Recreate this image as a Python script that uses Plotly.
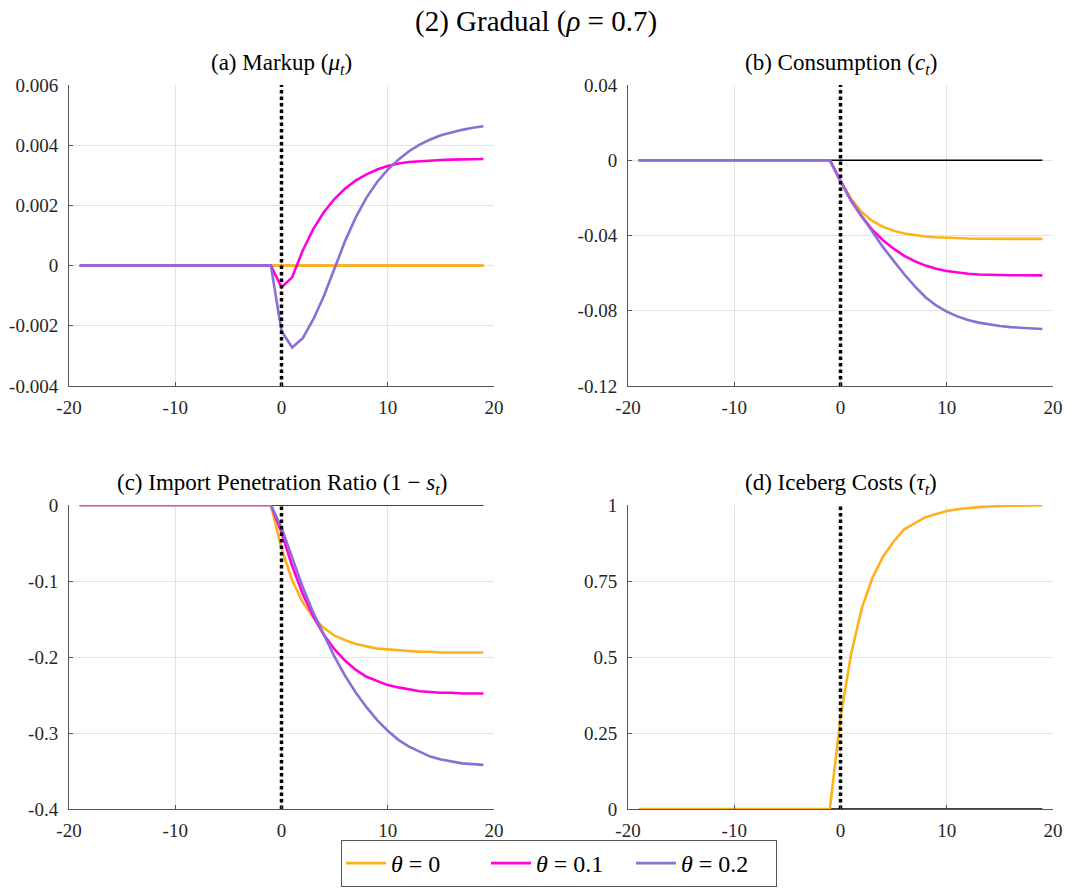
import plotly.graph_objects as go

# Impulse responses, horizon t = -19 .. 19 (shock hits at t = 0)
t = list(range(-19, 20))
pre = [0.0] * 18  # t = -19 .. -2

# (a) Markup
mu_th0 = pre + [0.0] * 21
mu_th1 = pre + [0.0, -0.00072, -0.00039, 0.00050, 0.00122, 0.00178, 0.00222, 0.00256,
                0.00283, 0.00303, 0.00319, 0.00331, 0.00339, 0.00344, 0.00347, 0.00349,
                0.00351, 0.00352, 0.00353, 0.00354, 0.00354]
mu_th2 = pre + [0.0, -0.00217, -0.00272, -0.00241, -0.00178, -0.00100, -0.00006, 0.00083,
                0.00161, 0.00226, 0.00278, 0.00319, 0.00352, 0.00380, 0.00402, 0.00419,
                0.00433, 0.00443, 0.00451, 0.00458, 0.00463]

# (b) Consumption
c_th0 = pre + [0.0, -0.0110, -0.0205, -0.0277, -0.0323, -0.0354, -0.0375, -0.0389, -0.0398,
               -0.0405, -0.0409, -0.0412, -0.0414, -0.0416, -0.0417, -0.0418, -0.0418,
               -0.0418, -0.0418, -0.0418, -0.0418]
c_th1 = pre + [0.0, -0.0110, -0.0215, -0.0300, -0.0370, -0.0425, -0.0470, -0.0508, -0.0537,
               -0.0560, -0.0577, -0.0589, -0.0598, -0.0603, -0.0607, -0.0609, -0.0610,
               -0.0611, -0.0611, -0.0612, -0.0612]
c_th2 = pre + [0.0, -0.0112, -0.0215, -0.0297, -0.0380, -0.0462, -0.0535, -0.0606, -0.0670,
               -0.0728, -0.0772, -0.0805, -0.0830, -0.0849, -0.0863, -0.0873, -0.0881,
               -0.0887, -0.0891, -0.0894, -0.0897]

# (c) Import penetration ratio
m_th0 = pre + [0.0, -0.057, -0.099, -0.128, -0.148, -0.162, -0.172, -0.178, -0.183, -0.186,
               -0.189, -0.190, -0.191, -0.192, -0.193, -0.193, -0.194, -0.194, -0.194,
               -0.194, -0.194]
m_th1 = pre + [0.0, -0.036, -0.080, -0.117, -0.147, -0.171, -0.190, -0.205, -0.217, -0.226,
               -0.232, -0.237, -0.240, -0.243, -0.245, -0.246, -0.247, -0.247, -0.248,
               -0.248, -0.248]
m_th2 = pre + [0.0, -0.030, -0.069, -0.108, -0.142, -0.172, -0.200, -0.225, -0.247, -0.266,
               -0.283, -0.297, -0.309, -0.318, -0.325, -0.331, -0.335, -0.338, -0.340,
               -0.341, -0.342]

# (d) Iceberg costs
tau = pre + [0.0, 0.30, 0.51, 0.66, 0.76, 0.83, 0.88, 0.92, 0.94, 0.96, 0.97, 0.98, 0.986,
             0.990, 0.993, 0.995, 0.997, 0.998, 0.998, 0.999, 0.999]

x_ticks = [-20, -10, 0, 10, 20]
x_ticktext = ["-20", "-10", "0", "10", "20"]
ya_ticks = [-0.004, -0.002, 0, 0.002, 0.004, 0.006]
ya_text = ["-0.004", "-0.002", "0", "0.002", "0.004", "0.006"]
yb_ticks = [-0.12, -0.08, -0.04, 0, 0.04]
yb_text = ["-0.12", "-0.08", "-0.04", "0", "0.04"]
yc_ticks = [-0.4, -0.3, -0.2, -0.1, 0]
yc_text = ["-0.4", "-0.3", "-0.2", "-0.1", "0"]
yd_ticks = [0, 0.25, 0.5, 0.75, 1]
yd_text = ["0", "0.25", "0.5", "0.75", "1"]

series_names = ["<i>θ</i> = 0", "<i>θ</i> = 0.1", "<i>θ</i> = 0.2"]
colors = ["#ffb11b", "#ff00dc", "#8b6fd4"]

W, H = 1071, 889
FONT = "Liberation Serif"

# pixel boxes of the four panels: (left, right, top, bottom)
boxes = {
    1: (69, 494, 85, 386),
    2: (628, 1053, 85, 386),
    3: (69, 494, 505, 809),
    4: (628, 1053, 505, 809),
}

panels = [
    (1, "(a) Markup (<i>μ<sub>t</sub></i>)", [mu_th0, mu_th1, mu_th2], ya_ticks, ya_text),
    (2, "(b) Consumption (<i>c<sub>t</sub></i>)", [c_th0, c_th1, c_th2], yb_ticks, yb_text),
    (3, "(c) Import Penetration Ratio (1 − <i>s<sub>t</sub></i>)", [m_th0, m_th1, m_th2], yc_ticks, yc_text),
    (4, "(d) Iceberg Costs (<i>τ<sub>t</sub></i>)", [tau], yd_ticks, yd_text),
]

fig = go.Figure()
annotations = []

for idx, title, ser, yt, ytt in panels:
    xa = "x" if idx == 1 else f"x{idx}"
    ya = "y" if idx == 1 else f"y{idx}"
    l, r, top, bot = boxes[idx]
    ymin, ymax = yt[0], yt[-1]

    # zero reference line
    fig.add_trace(go.Scatter(x=[-1, 19], y=[0, 0], mode="lines",
                             line=dict(color="black", width=1.5),
                             showlegend=False, hoverinfo="skip", xaxis=xa, yaxis=ya))
    # impulse responses
    for k, s in enumerate(ser):
        fig.add_trace(go.Scatter(x=t, y=s, mode="lines", name=series_names[k],
                                 line=dict(color=colors[k], width=2.6),
                                 showlegend=(idx == 1), legendgroup=str(k),
                                 xaxis=xa, yaxis=ya))
    # shock date
    fig.add_trace(go.Scatter(x=[0, 0], y=[ymin, ymax], mode="lines",
                             line=dict(color="black", width=3.5, dash="3.5px,3px"),
                             showlegend=False, hoverinfo="skip", xaxis=xa, yaxis=ya))

    axis_common = dict(showline=True, linecolor="#555555", linewidth=1,
                       ticks="inside", ticklen=4, tickcolor="#555555",
                       showgrid=True, gridcolor="#e3e3e3", gridwidth=1,
                       zeroline=False, automargin=False,
                       tickfont=dict(family=FONT, size=19, color="#262626"))
    fig.layout[f"xaxis{'' if idx == 1 else idx}"] = dict(
        domain=[l / W, r / W], anchor=ya, range=[-20, 20],
        tickvals=x_ticks, ticktext=x_ticktext, ticklabelstandoff=4, **axis_common)
    fig.layout[f"yaxis{'' if idx == 1 else idx}"] = dict(
        domain=[1 - bot / H, 1 - top / H], anchor=xa, range=[ymin, ymax],
        tickvals=yt, ticktext=ytt, ticklabelstandoff=6, **axis_common)

    annotations.append(dict(text=title, x=(l + r) / 2 / W, y=1 - (top - 5) / H,
                            xref="paper", yref="paper", xanchor="center", yanchor="bottom",
                            showarrow=False, font=dict(family=FONT, size=23, color="black")))

annotations.append(dict(text="(2) Gradual (<i>ρ</i> = 0.7)", x=536 / W, y=1 - 3 / H,
                        xref="paper", yref="paper", xanchor="center", yanchor="top",
                        showarrow=False, font=dict(family=FONT, size=29, color="black")))

fig.update_layout(
    width=W, height=H,
    margin=dict(l=0, r=0, t=0, b=0, autoexpand=False),
    paper_bgcolor="white", plot_bgcolor="white",
    annotations=annotations,
    showlegend=True,
    legend=dict(orientation="h", x=559 / W, y=2 / H, xanchor="center", yanchor="bottom",
                bordercolor="#555555", borderwidth=1, bgcolor="white",
                font=dict(family=FONT, size=24, color="black"),
                itemwidth=40, tracegroupgap=0,
                entrywidth=90, entrywidthmode="pixels"),
)

fig.write_html("out.html")
